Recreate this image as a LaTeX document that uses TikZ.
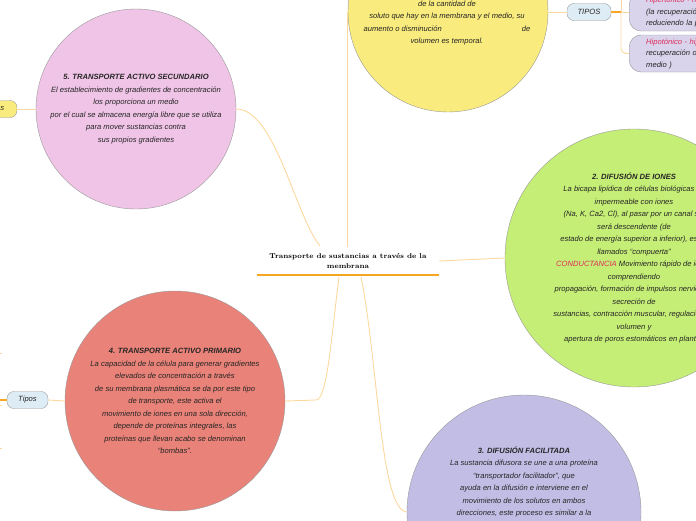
\documentclass[tikz,border=0pt]{standalone}
\usepackage{fontspec}
\usepackage{tikz}
\usepackage{xcolor}
\usetikzlibrary{positioning, calc}

\newfontfamily\handfont{Liberation Sans}
\newcommand{\bodyfont}{\handfont\itshape\fontsize{7.6}{12.5}\selectfont}
\newcommand{\kindfont}{\handfont\itshape\fontsize{7.6}{11.5}\selectfont}
\newcommand{\titlefont}{\rmfamily\bfseries\fontsize{7.1}{10.5}\selectfont}

\definecolor{ballyellow}{HTML}{F9EB7D}
\definecolor{ballpink}{HTML}{EFC4E6}
\definecolor{ballgreen}{HTML}{C5EE76}
\definecolor{ballred}{HTML}{E98278}
\definecolor{ballpurple}{HTML}{C2BDE5}
\definecolor{lavender}{HTML}{D9D4EC}
\definecolor{tipblue}{HTML}{DEECF5}
\definecolor{edgegray}{HTML}{999999}
\definecolor{inkgray}{HTML}{262626}
\definecolor{accentpink}{HTML}{DD2A5B}
\definecolor{linkpale}{HTML}{FCD89E}
\definecolor{linkorange}{HTML}{F5A623}

\begin{document}
\begin{tikzpicture}[
    x=1pt, y=-1pt,
    bubble/.style={draw=edgegray, circle, inner sep=0pt, align=center, font=\bodyfont, text=inkgray},
    bubbletext/.style={align=center, font=\bodyfont, text=inkgray},
    tipsbox/.style={draw=edgegray, rounded corners=7pt, fill=tipblue, minimum width=44pt, minimum height=17pt, inner sep=0pt, font=\bodyfont, text=inkgray},
    kindbox/.style={draw=edgegray, rounded corners=12pt, fill=lavender, text width=90pt, align=left, inner xsep=17pt, inner ysep=0pt, anchor=west, font=\kindfont, text=inkgray},
    link/.style={draw=linkpale, line width=0.9pt},
    hotlink/.style={draw=linkorange, line width=1.2pt}
]
    \useasboundingbox (0,0) rectangle (696,520);
    \clip (0,0) rectangle (696,520);

    % Central topic
    \node (title) [font=\titlefont, align=center, minimum width=182pt, inner ysep=6pt] at (348,261) {Transporte de sustancias a través de la\\ membrana};
    \draw[hotlink] (title.south west) -- (title.south east);

    % Bubbles
    \node (yellow) [bubble, fill=ballyellow, minimum size=200pt] at (448,12) {};
    \node (yellowtxt) [bubbletext, anchor=south] at (447,49) {de la cantidad de\\ soluto que hay en la membrana y el medio, su\\ aumento o disminución\hspace{80pt}de\\ volumen es temporal.};

    \node (pink) [bubble, fill=ballpink, minimum size=200pt] at (136,109) {{\bfseries 5. TRANSPORTE ACTIVO SECUNDARIO}\\ El establecimiento de gradientes de concentración\\ los proporciona un medio\\ por el cual se almacena energía libre que se utiliza\\ para mover sustancias contra\\ sus propios gradientes};

    \node (green) [bubble, fill=ballgreen, minimum size=258pt] at (634,258) {{\bfseries 2. DIFUSIÓN DE IONES}\\ La bicapa lipídica de células biológicas es\\ impermeable con iones\\ (Na, K, Ca2, Cl), al pasar por un canal sin\\ será descendente (de\\ estado de energía superior a inferior), estos\\ llamados “compuerta”\\ {\color{accentpink}CONDUCTANCIA} Movimiento rápido de iones\\ comprendiendo\\ propagación, formación de impulsos nerviosos,\\ secreción de\\ sustancias, contracción muscular, regulación de\\ volumen y\\ apertura de poros estomáticos en plantas};

    \node (red) [bubble, fill=ballred, minimum size=220pt] at (175,401) {{\bfseries 4. TRANSPORTE ACTIVO PRIMARIO}\\ La capacidad de la célula para generar gradientes\\ elevados de concentración a través\\ de su membrana plasmática se da por este tipo\\ de transporte, este activa el\\ movimiento de iones en una sola dirección,\\ depende de proteínas integrales, las\\ proteínas que llevan acabo se denominan\\ “bombas”.};

    \node (purple) [bubble, fill=ballpurple, minimum size=234pt] at (524,512) {};
    \node (purpletxt) [bubbletext, anchor=north] at (524,443) {{\bfseries 3. DIFUSIÓN FACILITADA}\\ La sustancia difusora se une a una proteína\\ “transportador facilitador”, que\\ ayuda en la difusión e interviene en el\\ movimiento de los solutos en ambos\\ direcciones, este proceso es similar a la};

    % Tipos boxes
    \node (tiposA) [tipsbox] at (589,12) {TIPOS};
    \node (tiposB) [tipsbox, minimum width=41pt] at (27.5,400) {Tipos};
    \node (tiposC) [tipsbox, fill=ballyellow] at (-5,109) {Tipos};

    \node (hiper) [kindbox, minimum height=38pt] at (629,12) {{\color{accentpink}Hipertónico - hip}\\ (la recuperación\\ reduciendo la pr};
    \node (hipo) [kindbox, minimum height=37pt] at (629,53.5) {{\color{accentpink}Hipotónico - hipo}\\ recuperación ocu\\ medio )};

    \coordinate (spine) at (621,12);
    \coordinate (spinetop) at (621,-10);
    \coordinate (leftspine) at (-8,400);

    % Connections from the title
    \draw[link] (yellow.west) -- (yellow.west |- title.north);
    \draw[link] (pink.east) .. controls (275,109) and (295,215) .. (320,246);
    \draw[link] (title.east) -- (green.west);
    \draw[link] (red.east) -- (316,400) .. controls (327,400) and (331,340) .. (339,277);
    \draw[link] (361,277) .. controls (378,360) and (380,510) .. (purple.west);

    % Tipos connections
    \draw[link] (yellow.east) -- (tiposA.west);
    \draw[hotlink] (tiposA.east) -- (spine);
    \draw[link] (spine) -- (hiper.west);
    \draw[link] (spine) -- (spinetop);
    \draw[link, rounded corners=5pt] (spine) |- (hipo.west);

    \draw[link] (tiposC.east) -- (pink.west);
    \draw[link] (tiposB.east) -- (red.west);
    \draw[hotlink] (tiposB.west) -- (leftspine);
    \draw[link] (leftspine |- 0,353) -- (leftspine |- 0,448);
    \foreach \y in {353,405,448}
        \draw[link] (leftspine |- 0,\y) -- (2,\y);
\end{tikzpicture}
\end{document}
